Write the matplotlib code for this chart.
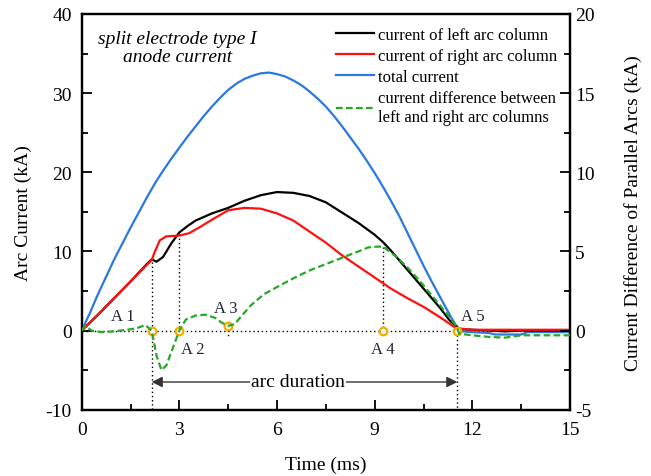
import numpy as np
import matplotlib
matplotlib.use('Agg')
import matplotlib.pyplot as plt
from matplotlib.lines import Line2D

plt.rcParams['font.family'] = ['Liberation Serif', 'DejaVu Serif']
plt.rcParams['axes.unicode_minus'] = False

# left arc column (kA)
t_left = [0, 0.5, 1.0, 1.5, 2.0, 2.15, 2.3, 2.5, 2.75, 3.0, 3.25, 3.5, 4.0, 4.5, 5.0, 5.5,
          6.0, 6.5, 7.0, 7.5, 8.0, 8.5, 9.0, 9.25, 9.5, 9.75, 10.0, 10.25, 10.5, 11.0, 11.3,
          11.6, 12.0, 12.5, 13.0, 13.5, 14.0, 15.0]
i_left = [0, 2.0, 4.1, 6.2, 8.4, 9.0, 8.7, 9.3, 11.0, 12.4, 13.2, 13.9, 14.8, 15.5, 16.4, 17.1,
          17.5, 17.4, 17.0, 16.2, 14.9, 13.6, 12.1, 11.2, 10.1, 8.9, 7.7, 6.5, 5.3, 2.9, 1.3,
          0.2, 0.1, 0.0, -0.1, 0.0, 0.0, 0.0]

# right arc column (kA)
t_right = [0, 0.5, 1.0, 1.5, 2.0, 2.15, 2.25, 2.4, 2.6, 3.0, 3.3, 3.6, 4.0, 4.5, 5.0, 5.5,
           6.0, 6.5, 7.0, 7.5, 8.0, 8.5, 9.0, 9.5, 10.0, 10.5, 11.0, 11.5, 12.0, 13.0, 14.0, 15.0]
i_right = [0, 2.0, 4.1, 6.2, 8.3, 8.9, 10.0, 11.4, 11.9, 12.0, 12.3, 13.0, 14.0, 15.2, 15.5, 15.4,
           14.8, 13.9, 12.5, 11.1, 9.5, 8.1, 6.7, 5.3, 4.1, 3.0, 1.7, 0.3, 0.1, 0.1, 0.1, 0.1]

# total current (kA)
t_total = [0, 0.25, 0.5, 0.75, 1.0, 1.25, 1.5, 1.75, 2.0, 2.25, 2.5, 2.75, 3.0, 3.25, 3.5,
           3.75, 4.0, 4.25, 4.5, 4.75, 5.0, 5.25, 5.5, 5.75, 6.0, 6.25, 6.5, 6.75, 7.0, 7.25,
           7.5, 7.75, 8.0, 8.25, 8.5, 8.75, 9.0, 9.25, 9.5, 9.75, 10.0, 10.25, 10.5, 10.75,
           11.0, 11.25, 11.5, 11.7, 12.0, 12.5, 12.7, 13.5, 13.7, 14.0, 15.0]
i_total = [0, 2.2, 4.6, 6.8, 9.0, 11.0, 13.0, 14.9, 16.8, 18.6, 20.2, 21.7, 23.1, 24.5, 25.8,
           27.1, 28.3, 29.4, 30.4, 31.2, 31.8, 32.2, 32.5, 32.6, 32.4, 32.1, 31.6, 31.0, 30.2,
           29.3, 28.3, 27.1, 25.8, 24.4, 23.0, 21.5, 19.9, 18.2, 16.4, 14.5, 12.4, 10.3, 8.2,
           6.2, 4.3, 2.4, 0.6, -0.1, -0.2, -0.3, -0.5, -0.5, -0.2, -0.2, -0.2]

# current difference left - right (kA, right axis)
t_diff = [0, 0.1, 0.3, 0.6, 1.0, 1.4, 1.7, 1.95, 2.15, 2.3, 2.45, 2.6, 2.8, 3.0, 3.2, 3.5, 3.8,
          4.1, 4.3, 4.5, 4.7, 4.9, 5.2, 5.6, 6.0, 6.5, 7.0, 7.5, 8.0, 8.5, 8.8, 9.05, 9.26,
          9.45, 9.7, 10.0, 10.4, 10.8, 11.2, 11.5, 11.6, 12.0, 12.5, 13.0, 13.5, 14.0, 15.0]
i_diff = [0, 0.3, 0.0, -0.1, -0.05, 0.05, 0.15, 0.35, 0.0, -1.6, -2.5, -2.2, -1.1, 0.0, 0.7,
          0.95, 1.0, 0.8, 0.5, 0.3, 0.4, 0.9, 1.6, 2.3, 2.75, 3.3, 3.8, 4.2, 4.6, 5.0, 5.25,
          5.3, 5.3, 5.0, 4.6, 4.0, 3.1, 2.1, 1.1, 0.3, -0.2, -0.3, -0.4, -0.45, -0.3, -0.3, -0.3]

# characteristic points
pt_names = ['A 1', 'A 2', 'A 3', 'A 4', 'A 5']
pt_t = [2.15, 3.0, 4.5, 9.26, 11.54]
pt_i = [0, 0, 0.6, 0, 0]
lbl_t = [1.26, 3.4, 4.44, 9.25, 12.0]
lbl_i = [1.9, -2.3, 2.9, -2.3, 1.9]

fig = plt.figure(figsize=(6.51, 4.77), dpi=100)
fig.subplots_adjust(left=0.1255, right=0.8756, bottom=0.139, top=0.9686)
ax = fig.add_subplot(111)
ax2 = ax.twinx()

dot = (0, (1, 2))
ax.plot([0, 15], [0, 0], color='k', lw=1, ls=dot, zorder=1)
ax.plot([2.15, 2.15], [8.6, -10], color='k', lw=1, ls=dot, zorder=1)
ax.plot([3.0, 3.0], [12.2, 0], color='k', lw=1, ls=dot, zorder=1)
ax.plot([4.5, 4.5], [0.6, -0.9], color='k', lw=1, ls=dot, zorder=1)
ax.plot([9.26, 9.26], [10.6, 0], color='k', lw=1, ls=dot, zorder=1)
ax.plot([11.54, 11.54], [0, -10], color='k', lw=1, ls=dot, zorder=1)

ax.plot(t_total, i_total, color='#2a78e0', lw=1.6, zorder=3)
ax.plot(t_left, i_left, color='k', lw=1.6, zorder=3)
ax.plot(t_right, i_right, color='#ff1010', lw=1.6, zorder=4)
ax2.plot(t_diff, i_diff, color='#25a825', lw=1.6, ls=(0, (3, 1.5)), zorder=3)

ax.plot(pt_t, pt_i, 'o', ms=5.5, mfc='white', mec='#f2a900', mew=1.6, zorder=6)
for name, x, y in zip(pt_names, lbl_t, lbl_i):
    ax.text(x, y, name, ha='center', va='center', fontsize=12, color='#222233', zorder=7)

ax.annotate('', xy=(2.15, -6.5), xytext=(11.54, -6.5),
            arrowprops=dict(arrowstyle='<|-|>', color='#333333', lw=1,
                            mutation_scale=16, shrinkA=0, shrinkB=0), zorder=5)
ax.text(6.64, -6.5, 'arc duration', ha='center', va='center', fontsize=14,
        bbox=dict(facecolor='white', edgecolor='none', pad=1), zorder=6)

ax.text(2.94, 35.8, 'split electrode type I\nanode current', ha='center', va='center',
        fontsize=14, style='italic', linespacing=1.05)

ax.set_xlim(0, 15)
ax.set_ylim(-10, 40)
ax2.set_ylim(-5, 20)
ax.set_xticks([0, 3, 6, 9, 12, 15])
ax.set_xticks(np.arange(1.5, 15, 3), minor=True)
ax.set_yticks([-10, 0, 10, 20, 30, 40])
ax.set_yticks([-5, 5, 15, 25, 35], minor=True)
ax2.set_yticks([-5, 0, 5, 10, 15, 20])
ax2.set_yticks([-2.5, 2.5, 7.5, 12.5, 17.5], minor=True)

for a in (ax, ax2):
    a.tick_params(which='major', direction='in', length=7, width=1.3, labelsize=14)
    a.tick_params(which='minor', direction='in', length=4, width=1.3)
    for s in a.spines.values():
        s.set_linewidth(1.6)
ax.tick_params(which='both', top=False, right=False)
ax.tick_params(axis='x', pad=8)
ax.tick_params(axis='y', pad=7)

ax.set_xlabel('Time (ms)', fontsize=14, labelpad=13)
ax.set_ylabel('Arc Current (kA)', fontsize=14, labelpad=10)
ax2.set_ylabel('Current Difference of Parallel Arcs (kA)', fontsize=14, labelpad=21)

handles = [Line2D([], [], color='k', lw=1.6),
           Line2D([], [], color='#ff1010', lw=1.6),
           Line2D([], [], color='#2a78e0', lw=1.6),
           Line2D([], [], color='#25a825', lw=1.6, ls=(0, (3, 1.5)))]
labels = ['current of left arc column', 'current of right arc column', 'total current',
          'current difference between\nleft and right arc columns']
leg = ax2.legend(handles, labels, loc='upper right', frameon=False, fontsize=12,
                 handlelength=2.3, handletextpad=0.2, labelspacing=0.3,
                 borderaxespad=0.4, bbox_to_anchor=(1.0, 1.0))
for txt in leg.get_texts():
    txt.set_linespacing(1.25)

fig.savefig('out.png', dpi=100)
